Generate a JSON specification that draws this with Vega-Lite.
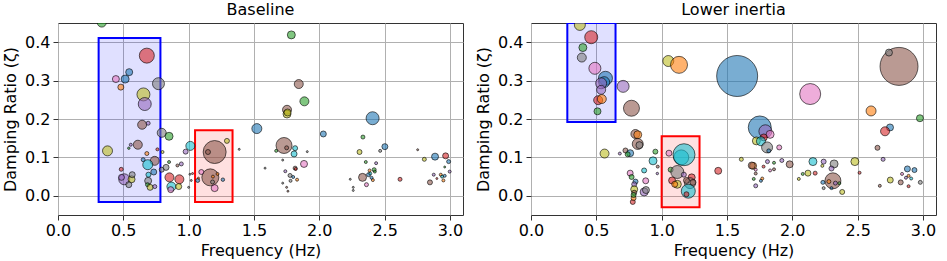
{
"$schema": "https://vega.github.io/schema/vega-lite/v6.json",
"padding": {"left": 2, "top": 1, "right": 8, "bottom": 1},
"background": "white",
"spacing": 11,
"config": {
 "font": "DejaVu Sans",
 "view": {"stroke": "#333", "strokeWidth": 1},
 "axis": {"labelFont": "DejaVu Sans", "labelFontSize": 16, "labelColor": "#000", "titleFont": "DejaVu Sans", "titleFontSize": 16, "titleFontWeight": "normal", "titleColor": "#000", "grid": true, "gridColor": "#b0b0b0", "gridWidth": 1, "domain": false, "tickColor": "#333", "tickSize": 5, "tickWidth": 1, "labelPadding": 2, "titlePadding": 4, "labelFlush": false, "labelOverlap": false},
 "axisY": {"labelPadding": 3, "titlePadding": 6},
 "title": {"font": "DejaVu Sans", "fontSize": 16, "fontWeight": "normal", "color": "#000", "offset": 5}
},
"datasets": {
 "boxes": [
  {"p": "B", "x1": 0.311, "x2": 0.784, "y1": -0.016, "y2": 0.411, "k": "b"},
  {"p": "B", "x1": 1.049, "x2": 1.336, "y1": -0.016, "y2": 0.171, "k": "r"},
  {"p": "L", "x1": 0.278, "x2": 0.647, "y1": 0.192, "y2": 0.45, "k": "b"},
  {"p": "L", "x1": 1.0, "x2": 1.29, "y1": -0.03, "y2": 0.155, "k": "r"}
 ],
 "pts": [
  {"p":"B","f":0.335,"z":0.451,"a":8.1,"c":"green"},
  {"p":"B","f":0.680,"z":0.365,"a":22.5,"c":"red"},
  {"p":"B","f":0.545,"z":0.322,"a":4.9,"c":"blue"},
  {"p":"B","f":0.514,"z":0.304,"a":6.4,"c":"blue"},
  {"p":"B","f":0.443,"z":0.304,"a":4.9,"c":"pink"},
  {"p":"B","f":0.481,"z":0.283,"a":3.6,"c":"orange"},
  {"p":"B","f":0.769,"z":0.292,"a":14.4,"c":"grey"},
  {"p":"B","f":0.654,"z":0.264,"a":16.9,"c":"olive"},
  {"p":"B","f":0.664,"z":0.239,"a":16.9,"c":"purple"},
  {"p":"B","f":0.644,"z":0.185,"a":8.1,"c":"brown"},
  {"p":"B","f":0.690,"z":0.189,"a":1.6,"c":"purple"},
  {"p":"B","f":0.794,"z":0.164,"a":8.1,"c":"grey"},
  {"p":"B","f":0.850,"z":0.155,"a":6.4,"c":"green"},
  {"p":"B","f":0.379,"z":0.117,"a":10,"c":"olive"},
  {"p":"B","f":0.611,"z":0.133,"a":8.1,"c":"brown"},
  {"p":"B","f":0.557,"z":0.133,"a":0.9,"c":"purple"},
  {"p":"B","f":0.542,"z":0.124,"a":0.6,"c":"green"},
  {"p":"B","f":0.761,"z":0.121,"a":0.9,"c":"red"},
  {"p":"B","f":0.800,"z":0.114,"a":0.9,"c":"olive"},
  {"p":"B","f":0.680,"z":0.110,"a":1.6,"c":"orange"},
  {"p":"B","f":0.740,"z":0.091,"a":8.1,"c":"brown"},
  {"p":"B","f":0.652,"z":0.094,"a":1.6,"c":"blue"},
  {"p":"B","f":0.687,"z":0.081,"a":10,"c":"cyan"},
  {"p":"B","f":0.733,"z":0.062,"a":3.6,"c":"blue"},
  {"p":"B","f":0.692,"z":0.055,"a":2.5,"c":"cyan"},
  {"p":"B","f":0.690,"z":0.039,"a":4.9,"c":"grey"},
  {"p":"B","f":0.685,"z":0.029,"a":1.6,"c":"green"},
  {"p":"B","f":0.705,"z":0.022,"a":3.6,"c":"olive"},
  {"p":"B","f":0.741,"z":0.024,"a":1.6,"c":"purple"},
  {"p":"B","f":0.507,"z":0.043,"a":12.1,"c":"purple"},
  {"p":"B","f":0.563,"z":0.043,"a":4.9,"c":"olive"},
  {"p":"B","f":0.568,"z":0.055,"a":3.6,"c":"grey"},
  {"p":"B","f":0.542,"z":0.029,"a":3.6,"c":"grey"},
  {"p":"B","f":0.484,"z":0.069,"a":1.6,"c":"red"},
  {"p":"B","f":0.486,"z":0.048,"a":3.6,"c":"purple"},
  {"p":"B","f":0.794,"z":0.068,"a":2.5,"c":"grey"},
  {"p":"B","f":0.827,"z":0.074,"a":3.6,"c":"grey"},
  {"p":"B","f":0.850,"z":0.088,"a":0.9,"c":"green"},
  {"p":"B","f":0.944,"z":0.083,"a":1.6,"c":"purple"},
  {"p":"B","f":0.914,"z":0.079,"a":0.9,"c":"brown"},
  {"p":"B","f":0.853,"z":0.048,"a":8.1,"c":"red"},
  {"p":"B","f":0.929,"z":0.043,"a":8.1,"c":"red"},
  {"p":"B","f":0.868,"z":0.024,"a":8.1,"c":"cyan"},
  {"p":"B","f":0.863,"z":0.016,"a":3.6,"c":"pink"},
  {"p":"B","f":0.924,"z":0.024,"a":3.6,"c":"olive"},
  {"p":"B","f":1.013,"z":0.130,"a":8.1,"c":"cyan"},
  {"p":"B","f":0.977,"z":0.115,"a":2.5,"c":"purple"},
  {"p":"B","f":1.010,"z":0.056,"a":0.4,"c":"grey"},
  {"p":"B","f":1.020,"z":0.040,"a":0.4,"c":"brown"},
  {"p":"B","f":1.000,"z":0.022,"a":0.4,"c":"grey"},
  {"p":"B","f":1.030,"z":0.058,"a":0.4,"c":"red"},
  {"p":"B","f":1.069,"z":0.040,"a":1.6,"c":"blue"},
  {"p":"B","f":1.075,"z":0.046,"a":0.4,"c":"orange"},
  {"p":"B","f":1.199,"z":0.114,"a":52.9,"c":"brown"},
  {"p":"B","f":1.148,"z":0.114,"a":2.5,"c":"brown"},
  {"p":"B","f":1.293,"z":0.143,"a":2.5,"c":"olive"},
  {"p":"B","f":1.387,"z":0.121,"a":0.4,"c":"grey"},
  {"p":"B","f":1.166,"z":0.048,"a":28.9,"c":"brown"},
  {"p":"B","f":1.097,"z":0.062,"a":2.5,"c":"pink"},
  {"p":"B","f":1.186,"z":0.050,"a":0.9,"c":"orange"},
  {"p":"B","f":1.183,"z":0.036,"a":1.6,"c":"grey"},
  {"p":"B","f":1.221,"z":0.057,"a":0.9,"c":"orange"},
  {"p":"B","f":1.262,"z":0.042,"a":1.2,"c":"blue"},
  {"p":"B","f":1.199,"z":0.020,"a":4.9,"c":"pink"},
  {"p":"B","f":1.786,"z":0.419,"a":6.4,"c":"green"},
  {"p":"B","f":1.843,"z":0.291,"a":8.1,"c":"brown"},
  {"p":"B","f":1.886,"z":0.246,"a":8.1,"c":"green"},
  {"p":"B","f":1.753,"z":0.224,"a":8.1,"c":"brown"},
  {"p":"B","f":1.753,"z":0.213,"a":6.4,"c":"olive"},
  {"p":"B","f":1.757,"z":0.217,"a":4.9,"c":"olive"},
  {"p":"B","f":1.522,"z":0.175,"a":10,"c":"blue"},
  {"p":"B","f":2.031,"z":0.161,"a":3.6,"c":"blue"},
  {"p":"B","f":1.730,"z":0.131,"a":25.6,"c":"brown"},
  {"p":"B","f":1.750,"z":0.125,"a":1.6,"c":"brown"},
  {"p":"B","f":1.670,"z":0.117,"a":0.9,"c":"green"},
  {"p":"B","f":1.815,"z":0.124,"a":2.5,"c":"cyan"},
  {"p":"B","f":1.807,"z":0.109,"a":3.6,"c":"cyan"},
  {"p":"B","f":1.908,"z":0.115,"a":0.4,"c":"grey"},
  {"p":"B","f":1.883,"z":0.083,"a":4.9,"c":"pink"},
  {"p":"B","f":1.815,"z":0.072,"a":1.6,"c":"brown"},
  {"p":"B","f":1.820,"z":0.070,"a":0.9,"c":"red"},
  {"p":"B","f":1.720,"z":0.093,"a":0.4,"c":"grey"},
  {"p":"B","f":1.585,"z":0.072,"a":0.4,"c":"grey"},
  {"p":"B","f":1.740,"z":0.064,"a":0.9,"c":"purple"},
  {"p":"B","f":1.776,"z":0.053,"a":1.6,"c":"grey"},
  {"p":"B","f":1.800,"z":0.049,"a":0.9,"c":"blue"},
  {"p":"B","f":1.830,"z":0.042,"a":0.9,"c":"orange"},
  {"p":"B","f":1.780,"z":0.039,"a":0.9,"c":"grey"},
  {"p":"B","f":1.720,"z":0.033,"a":0.4,"c":"grey"},
  {"p":"B","f":1.750,"z":0.022,"a":0.4,"c":"brown"},
  {"p":"B","f":1.760,"z":0.012,"a":0.4,"c":"brown"},
  {"p":"B","f":2.408,"z":0.202,"a":16.9,"c":"blue"},
  {"p":"B","f":2.334,"z":0.153,"a":1.6,"c":"green"},
  {"p":"B","f":2.502,"z":0.128,"a":3.6,"c":"blue"},
  {"p":"B","f":2.466,"z":0.117,"a":0.9,"c":"grey"},
  {"p":"B","f":2.308,"z":0.114,"a":2.5,"c":"olive"},
  {"p":"B","f":2.356,"z":0.088,"a":0.9,"c":"green"},
  {"p":"B","f":2.435,"z":0.085,"a":0.9,"c":"purple"},
  {"p":"B","f":2.420,"z":0.068,"a":1.6,"c":"green"},
  {"p":"B","f":2.377,"z":0.055,"a":1.6,"c":"blue"},
  {"p":"B","f":2.390,"z":0.058,"a":0.9,"c":"cyan"},
  {"p":"B","f":2.385,"z":0.066,"a":0.9,"c":"orange"},
  {"p":"B","f":2.410,"z":0.041,"a":0.9,"c":"orange"},
  {"p":"B","f":2.425,"z":0.063,"a":0.9,"c":"green"},
  {"p":"B","f":2.400,"z":0.047,"a":0.9,"c":"blue"},
  {"p":"B","f":2.331,"z":0.048,"a":6.4,"c":"brown"},
  {"p":"B","f":2.361,"z":0.029,"a":1.6,"c":"pink"},
  {"p":"B","f":2.237,"z":0.043,"a":0.4,"c":"grey"},
  {"p":"B","f":2.260,"z":0.022,"a":0.4,"c":"grey"},
  {"p":"B","f":2.260,"z":0.014,"a":0.4,"c":"grey"},
  {"p":"B","f":2.618,"z":0.043,"a":1.6,"c":"red"},
  {"p":"B","f":2.753,"z":0.120,"a":0.4,"c":"brown"},
  {"p":"B","f":2.804,"z":0.095,"a":1.6,"c":"olive"},
  {"p":"B","f":2.886,"z":0.102,"a":4.9,"c":"blue"},
  {"p":"B","f":2.967,"z":0.104,"a":3.6,"c":"red"},
  {"p":"B","f":2.990,"z":0.089,"a":1.6,"c":"blue"},
  {"p":"B","f":2.960,"z":0.075,"a":0.4,"c":"green"},
  {"p":"B","f":2.998,"z":0.063,"a":0.9,"c":"purple"},
  {"p":"B","f":2.876,"z":0.055,"a":0.9,"c":"purple"},
  {"p":"B","f":2.930,"z":0.055,"a":0.9,"c":"orange"},
  {"p":"B","f":2.940,"z":0.050,"a":0.9,"c":"cyan"},
  {"p":"B","f":2.950,"z":0.040,"a":0.9,"c":"orange"},
  {"p":"B","f":2.847,"z":0.035,"a":2.5,"c":"brown"},
  {"p":"B","f":2.900,"z":0.045,"a":0.4,"c":"red"},
  {"p":"B","f":2.960,"z":0.052,"a":0.9,"c":"blue"},

  {"p":"L","f":0.374,"z":0.445,"a":12.1,"c":"olive"},
  {"p":"L","f":0.461,"z":0.413,"a":16.9,"c":"red"},
  {"p":"L","f":0.397,"z":0.386,"a":6.4,"c":"green"},
  {"p":"L","f":0.389,"z":0.360,"a":8.1,"c":"grey"},
  {"p":"L","f":0.489,"z":0.332,"a":14.4,"c":"pink"},
  {"p":"L","f":0.570,"z":0.306,"a":19.6,"c":"blue"},
  {"p":"L","f":0.560,"z":0.296,"a":12.1,"c":"blue"},
  {"p":"L","f":0.537,"z":0.293,"a":12.1,"c":"purple"},
  {"p":"L","f":0.537,"z":0.276,"a":8.1,"c":"purple"},
  {"p":"L","f":0.705,"z":0.285,"a":14.4,"c":"purple"},
  {"p":"L","f":0.514,"z":0.249,"a":8.1,"c":"red"},
  {"p":"L","f":0.542,"z":0.252,"a":8.1,"c":"orange"},
  {"p":"L","f":0.509,"z":0.220,"a":4.9,"c":"green"},
  {"p":"L","f":0.769,"z":0.228,"a":25.6,"c":"brown"},
  {"p":"L","f":0.799,"z":0.161,"a":8.1,"c":"brown"},
  {"p":"L","f":0.817,"z":0.159,"a":6.4,"c":"orange"},
  {"p":"L","f":0.817,"z":0.135,"a":12.1,"c":"brown"},
  {"p":"L","f":0.830,"z":0.132,"a":4.9,"c":"grey"},
  {"p":"L","f":0.563,"z":0.110,"a":8.1,"c":"olive"},
  {"p":"L","f":0.680,"z":0.110,"a":0.9,"c":"purple"},
  {"p":"L","f":0.723,"z":0.118,"a":2.5,"c":"brown"},
  {"p":"L","f":0.759,"z":0.111,"a":4.9,"c":"blue"},
  {"p":"L","f":0.740,"z":0.108,"a":2.5,"c":"green"},
  {"p":"L","f":0.952,"z":0.115,"a":2.5,"c":"green"},
  {"p":"L","f":0.934,"z":0.091,"a":6.4,"c":"cyan"},
  {"p":"L","f":0.970,"z":0.076,"a":0.9,"c":"brown"},
  {"p":"L","f":0.967,"z":0.058,"a":0.6,"c":"purple"},
  {"p":"L","f":0.866,"z":0.066,"a":2.5,"c":"cyan"},
  {"p":"L","f":0.759,"z":0.059,"a":3.6,"c":"pink"},
  {"p":"L","f":0.770,"z":0.049,"a":2.5,"c":"green"},
  {"p":"L","f":0.800,"z":0.037,"a":2.5,"c":"blue"},
  {"p":"L","f":0.790,"z":0.030,"a":2.5,"c":"purple"},
  {"p":"L","f":0.878,"z":0.039,"a":3.6,"c":"pink"},
  {"p":"L","f":0.790,"z":0.017,"a":4.9,"c":"olive"},
  {"p":"L","f":0.866,"z":0.010,"a":6.4,"c":"purple"},
  {"p":"L","f":0.880,"z":0.015,"a":4.9,"c":"grey"},
  {"p":"L","f":0.790,"z":0.008,"a":2.5,"c":"brown"},
  {"p":"L","f":0.779,"z":-0.016,"a":2.5,"c":"red"},
  {"p":"L","f":0.785,"z":-0.006,"a":2.5,"c":"orange"},
  {"p":"L","f":0.785,"z":0.002,"a":2.5,"c":"green"},
  {"p":"L","f":1.051,"z":0.351,"a":12.1,"c":"olive"},
  {"p":"L","f":1.133,"z":0.341,"a":28.9,"c":"orange"},
  {"p":"L","f":1.578,"z":0.312,"a":168.1,"c":"blue"},
  {"p":"L","f":1.751,"z":0.178,"a":52.9,"c":"blue"},
  {"p":"L","f":1.794,"z":0.168,"a":16.9,"c":"purple"},
  {"p":"L","f":1.830,"z":0.160,"a":6.4,"c":"pink"},
  {"p":"L","f":1.782,"z":0.152,"a":4.9,"c":"red"},
  {"p":"L","f":1.725,"z":0.143,"a":6.4,"c":"olive"},
  {"p":"L","f":1.760,"z":0.142,"a":8.1,"c":"cyan"},
  {"p":"L","f":1.807,"z":0.126,"a":12.1,"c":"grey"},
  {"p":"L","f":1.820,"z":0.117,"a":1.6,"c":"blue"},
  {"p":"L","f":1.900,"z":0.126,"a":2.5,"c":"pink"},
  {"p":"L","f":1.056,"z":0.111,"a":3.6,"c":"pink"},
  {"p":"L","f":1.150,"z":0.100,"a":22.5,"c":"cyan"},
  {"p":"L","f":1.171,"z":0.107,"a":48.4,"c":"cyan"},
  {"p":"L","f":1.069,"z":0.068,"a":2.5,"c":"green"},
  {"p":"L","f":1.120,"z":0.062,"a":16.9,"c":"grey"},
  {"p":"L","f":1.170,"z":0.055,"a":2.5,"c":"purple"},
  {"p":"L","f":1.230,"z":0.048,"a":4.9,"c":"red"},
  {"p":"L","f":1.080,"z":0.040,"a":4.9,"c":"red"},
  {"p":"L","f":1.120,"z":0.030,"a":6.4,"c":"olive"},
  {"p":"L","f":1.217,"z":0.033,"a":12.1,"c":"grey"},
  {"p":"L","f":1.190,"z":0.040,"a":3.6,"c":"brown"},
  {"p":"L","f":1.204,"z":0.012,"a":19.6,"c":"cyan"},
  {"p":"L","f":1.190,"z":0.004,"a":2.5,"c":"red"},
  {"p":"L","f":1.100,"z":0.030,"a":3.6,"c":"orange"},
  {"p":"L","f":1.240,"z":0.035,"a":3.6,"c":"brown"},
  {"p":"L","f":1.433,"z":0.065,"a":4.9,"c":"red"},
  {"p":"L","f":1.610,"z":0.095,"a":1.6,"c":"olive"},
  {"p":"L","f":1.700,"z":0.078,"a":4.9,"c":"orange"},
  {"p":"L","f":1.690,"z":0.079,"a":4.9,"c":"brown"},
  {"p":"L","f":1.720,"z":0.058,"a":0.9,"c":"brown"},
  {"p":"L","f":1.720,"z":0.068,"a":0.9,"c":"pink"},
  {"p":"L","f":1.705,"z":0.044,"a":0.9,"c":"green"},
  {"p":"L","f":1.760,"z":0.039,"a":0.9,"c":"blue"},
  {"p":"L","f":1.770,"z":0.045,"a":0.9,"c":"orange"},
  {"p":"L","f":1.720,"z":0.026,"a":1.6,"c":"purple"},
  {"p":"L","f":1.780,"z":0.076,"a":0.9,"c":"red"},
  {"p":"L","f":1.810,"z":0.089,"a":1.6,"c":"purple"},
  {"p":"L","f":1.860,"z":0.086,"a":0.9,"c":"green"},
  {"p":"L","f":1.920,"z":0.092,"a":1.6,"c":"purple"},
  {"p":"L","f":1.830,"z":0.066,"a":0.9,"c":"pink"},
  {"p":"L","f":1.860,"z":0.069,"a":0.9,"c":"brown"},
  {"p":"L","f":1.980,"z":0.082,"a":4.9,"c":"brown"},
  {"p":"L","f":2.137,"z":0.265,"a":44.1,"c":"pink"},
  {"p":"L","f":2.817,"z":0.337,"a":144.4,"c":"brown"},
  {"p":"L","f":2.740,"z":0.373,"a":4.9,"c":"grey"},
  {"p":"L","f":2.603,"z":0.221,"a":10,"c":"orange"},
  {"p":"L","f":2.977,"z":0.202,"a":4.9,"c":"green"},
  {"p":"L","f":2.748,"z":0.178,"a":4.9,"c":"blue"},
  {"p":"L","f":2.710,"z":0.168,"a":8.1,"c":"red"},
  {"p":"L","f":2.652,"z":0.125,"a":2.5,"c":"brown"},
  {"p":"L","f":2.695,"z":0.095,"a":1.6,"c":"purple"},
  {"p":"L","f":2.479,"z":0.089,"a":6.4,"c":"olive"},
  {"p":"L","f":2.515,"z":0.060,"a":0.9,"c":"red"},
  {"p":"L","f":2.158,"z":0.089,"a":6.4,"c":"cyan"},
  {"p":"L","f":2.240,"z":0.089,"a":2.5,"c":"purple"},
  {"p":"L","f":2.320,"z":0.083,"a":6.4,"c":"grey"},
  {"p":"L","f":2.230,"z":0.078,"a":0.9,"c":"olive"},
  {"p":"L","f":2.300,"z":0.071,"a":2.5,"c":"purple"},
  {"p":"L","f":2.120,"z":0.059,"a":3.6,"c":"olive"},
  {"p":"L","f":2.080,"z":0.057,"a":0.9,"c":"green"},
  {"p":"L","f":2.175,"z":0.059,"a":1.6,"c":"red"},
  {"p":"L","f":2.311,"z":0.039,"a":25.6,"c":"brown"},
  {"p":"L","f":2.280,"z":0.037,"a":1.6,"c":"orange"},
  {"p":"L","f":2.330,"z":0.033,"a":1.6,"c":"purple"},
  {"p":"L","f":2.234,"z":0.035,"a":1.6,"c":"blue"},
  {"p":"L","f":2.382,"z":0.010,"a":2.5,"c":"olive"},
  {"p":"L","f":2.240,"z":0.020,"a":0.9,"c":"grey"},
  {"p":"L","f":2.300,"z":0.020,"a":0.9,"c":"blue"},
  {"p":"L","f":2.360,"z":0.033,"a":0.9,"c":"green"},
  {"p":"L","f":2.050,"z":0.044,"a":0.9,"c":"olive"},
  {"p":"L","f":2.881,"z":0.070,"a":3.6,"c":"blue"},
  {"p":"L","f":2.935,"z":0.067,"a":2.5,"c":"blue"},
  {"p":"L","f":2.840,"z":0.057,"a":0.9,"c":"pink"},
  {"p":"L","f":2.870,"z":0.047,"a":0.9,"c":"purple"},
  {"p":"L","f":2.890,"z":0.052,"a":0.9,"c":"orange"},
  {"p":"L","f":2.750,"z":0.041,"a":3.6,"c":"olive"},
  {"p":"L","f":2.830,"z":0.035,"a":2.5,"c":"brown"},
  {"p":"L","f":2.980,"z":0.035,"a":1.6,"c":"grey"},
  {"p":"L","f":2.670,"z":0.026,"a":0.9,"c":"brown"},
  {"p":"L","f":2.890,"z":0.025,"a":0.9,"c":"red"},
  {"p":"L","f":2.910,"z":0.045,"a":0.9,"c":"cyan"}
 ]
},
"hconcat": [
 {
  "title": "Baseline",
  "width": 405, "height": 192,
  "layer": [
   {
    "data": {"name": "boxes"},
    "transform": [{"filter": "datum.p === 'B'"}],
    "mark": {"type": "rect", "fillOpacity": 0.12, "strokeWidth": 2, "clip": true},
    "encoding": {
     "x": {"field": "x1", "type": "quantitative", "scale": {"domain": [0, 3.1], "nice": false, "zero": false}, "axis": {"values": [0, 0.5, 1, 1.5, 2, 2.5, 3], "format": ".1f", "title": "Frequency (Hz)"}},
     "x2": {"field": "x2"},
     "y": {"field": "y1", "type": "quantitative", "scale": {"domain": [-0.05, 0.45], "nice": false, "zero": false}, "axis": {"values": [0, 0.1, 0.2, 0.3, 0.4], "format": ".1f", "title": "Damping Ratio (ζ)"}},
     "y2": {"field": "y2"},
     "fill": {"field": "k", "type": "nominal", "scale": {"domain": ["b", "r"], "range": ["#0000ff", "#ff0000"]}, "legend": null},
     "stroke": {"field": "k", "type": "nominal", "scale": {"domain": ["b", "r"], "range": ["#0000ff", "#ff0000"]}, "legend": null}
    }
   },
   {
    "data": {"name": "pts"},
    "transform": [{"filter": "datum.p === 'B'"}],
    "mark": {"type": "circle", "fillOpacity": 0.6, "stroke": "#000", "strokeOpacity": 0.6, "strokeWidth": 1, "clip": true},
    "encoding": {
     "x": {"field": "f", "type": "quantitative", "scale": {"domain": [0, 3.1], "nice": false, "zero": false}, "axis": {"values": [0, 0.5, 1, 1.5, 2, 2.5, 3], "format": ".1f", "title": "Frequency (Hz)"}},
     "y": {"field": "z", "type": "quantitative", "scale": {"domain": [-0.05, 0.45], "nice": false, "zero": false}, "axis": {"values": [0, 0.1, 0.2, 0.3, 0.4], "format": ".1f", "title": "Damping Ratio (ζ)"}},
     "size": {"field": "a", "type": "quantitative", "scale": {"type": "linear", "domain": [0, 100], "range": [0, 1000], "zero": true}, "legend": null},
     "color": {"field": "c", "type": "nominal", "scale": {"domain": ["blue","orange","green","red","purple","brown","pink","grey","olive","cyan"], "range": ["#1f77b4","#ff7f0e","#2ca02c","#d62728","#9467bd","#8c564b","#e377c2","#7f7f7f","#bcbd22","#17becf"]}, "legend": null}
    }
   }
  ]
 },
 {
  "title": "Lower inertia",
  "width": 405, "height": 192,
  "layer": [
   {
    "data": {"name": "boxes"},
    "transform": [{"filter": "datum.p === 'L'"}],
    "mark": {"type": "rect", "fillOpacity": 0.12, "strokeWidth": 2, "clip": true},
    "encoding": {
     "x": {"field": "x1", "type": "quantitative", "scale": {"domain": [0, 3.1], "nice": false, "zero": false}, "axis": {"values": [0, 0.5, 1, 1.5, 2, 2.5, 3], "format": ".1f", "title": "Frequency (Hz)"}},
     "x2": {"field": "x2"},
     "y": {"field": "y1", "type": "quantitative", "scale": {"domain": [-0.05, 0.45], "nice": false, "zero": false}, "axis": {"values": [0, 0.1, 0.2, 0.3, 0.4], "format": ".1f", "title": "Damping Ratio (ζ)"}},
     "y2": {"field": "y2"},
     "fill": {"field": "k", "type": "nominal", "scale": {"domain": ["b", "r"], "range": ["#0000ff", "#ff0000"]}, "legend": null},
     "stroke": {"field": "k", "type": "nominal", "scale": {"domain": ["b", "r"], "range": ["#0000ff", "#ff0000"]}, "legend": null}
    }
   },
   {
    "data": {"name": "pts"},
    "transform": [{"filter": "datum.p === 'L'"}],
    "mark": {"type": "circle", "fillOpacity": 0.6, "stroke": "#000", "strokeOpacity": 0.6, "strokeWidth": 1, "clip": true},
    "encoding": {
     "x": {"field": "f", "type": "quantitative", "scale": {"domain": [0, 3.1], "nice": false, "zero": false}, "axis": {"values": [0, 0.5, 1, 1.5, 2, 2.5, 3], "format": ".1f", "title": "Frequency (Hz)"}},
     "y": {"field": "z", "type": "quantitative", "scale": {"domain": [-0.05, 0.45], "nice": false, "zero": false}, "axis": {"values": [0, 0.1, 0.2, 0.3, 0.4], "format": ".1f", "title": "Damping Ratio (ζ)"}},
     "size": {"field": "a", "type": "quantitative", "scale": {"type": "linear", "domain": [0, 100], "range": [0, 1000], "zero": true}, "legend": null},
     "color": {"field": "c", "type": "nominal", "scale": {"domain": ["blue","orange","green","red","purple","brown","pink","grey","olive","cyan"], "range": ["#1f77b4","#ff7f0e","#2ca02c","#d62728","#9467bd","#8c564b","#e377c2","#7f7f7f","#bcbd22","#17becf"]}, "legend": null}
    }
   }
  ]
 }
]
}
